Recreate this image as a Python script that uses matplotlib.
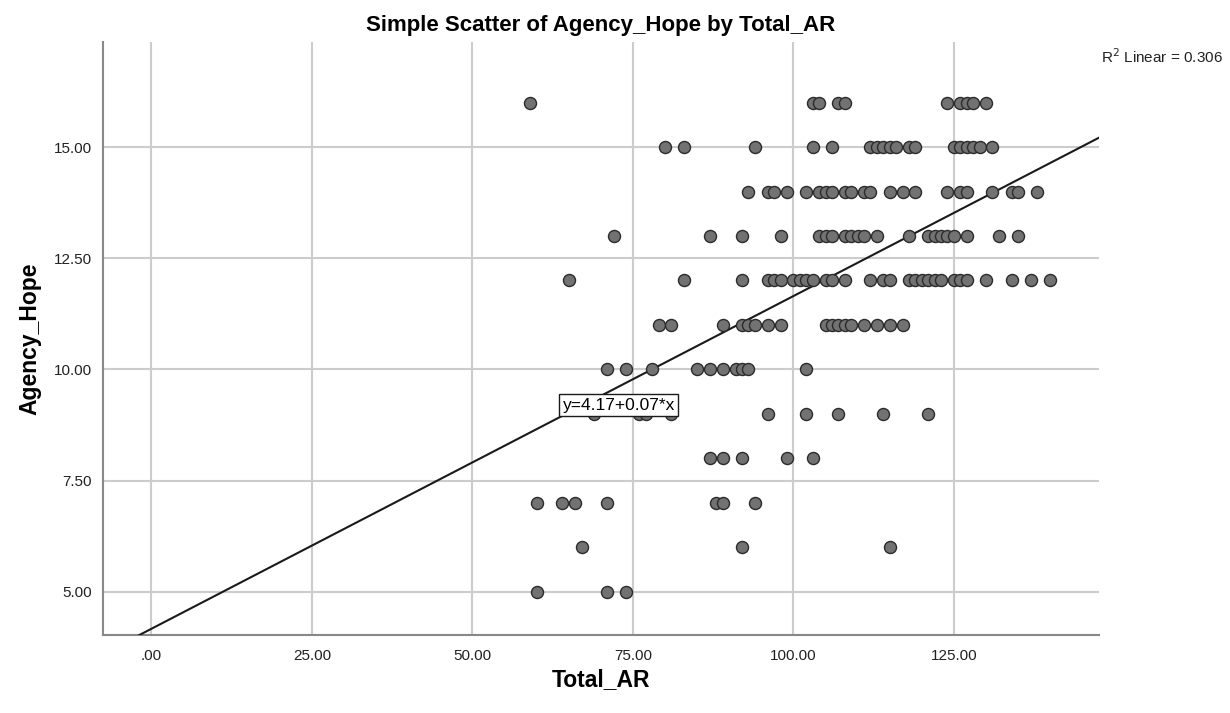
import numpy as np
import matplotlib.pyplot as plt

plt.rcParams['font.family'] = ['Liberation Sans', 'DejaVu Sans']

# Total_AR scores for each Agency_Hope level
total_ar = {
    16: [59, 103, 104, 107, 108, 124, 126, 127, 128, 130],
    15: [80, 83, 94, 103, 106, 112, 113, 114, 115, 116, 118, 119,
         125, 126, 127, 128, 129, 131],
    14: [93, 96, 97, 99, 102, 104, 105, 106, 108, 109, 111, 112, 115, 117,
         119, 124, 126, 127, 131, 134, 135, 138],
    13: [72, 87, 92, 98, 104, 105, 106, 108, 109, 110, 111, 113, 118, 121,
         122, 123, 124, 125, 127, 132, 135],
    12: [65, 83, 92, 96, 97, 98, 100, 101, 102, 103, 105, 106, 108, 112, 114,
         115, 118, 119, 120, 121, 122, 123, 125, 126, 127, 130, 134, 137, 140],
    11: [79, 81, 89, 92, 93, 94, 96, 98, 105, 106, 107, 108, 109, 111, 113,
         115, 117],
    10: [71, 74, 78, 85, 87, 89, 91, 92, 93, 102],
    9: [69, 76, 77, 81, 96, 102, 107, 114, 121],
    8: [87, 89, 92, 99, 103],
    7: [60, 64, 66, 71, 88, 89, 94],
    6: [67, 92, 115],
    5: [60, 71, 74],
}

intercept = 4.17
slope = 0.0748
r_squared = 0.306

x_vals = np.concatenate([v for v in total_ar.values()])
y_vals = np.concatenate([[k] * len(v) for k, v in total_ar.items()])

fig = plt.figure(figsize=(12.3, 7.13), dpi=100)
ax = fig.add_axes([0.0837, 0.1094, 0.8098, 0.8316])

ax.set_xlim(-7.55, 147.6)
ax.set_ylim(4.03, 17.36)

ax.set_xticks(np.arange(0, 126, 25))
ax.set_yticks(np.arange(5, 15.1, 2.5))
ax.set_xticklabels(['.00'] + [f'{t:.2f}' for t in np.arange(25, 126, 25)])
ax.set_yticklabels([f'{t:.2f}' for t in np.arange(5, 15.1, 2.5)])
ax.tick_params(length=0, labelsize=11, colors='#222222')
ax.tick_params(axis='x', pad=10)
ax.tick_params(axis='y', pad=8)

ax.grid(True, color='#cccccc', linewidth=1.5)
ax.set_axisbelow(True)
for side in ['top', 'right']:
    ax.spines[side].set_visible(False)
for side in ['left', 'bottom']:
    ax.spines[side].set_color('#888888')
    ax.spines[side].set_linewidth(1.5)

# Fit line
xs = np.array(ax.get_xlim())
ax.plot(xs, intercept + slope * xs, color='#1a1a1a', linewidth=1.5, zorder=3)

ax.scatter(x_vals, y_vals, s=75, facecolor='#727272', edgecolor='#2b2b2b',
           linewidth=1.0, zorder=4)

ax.text(72.8, 9.2, f'y={intercept:.2f}+{slope:.2f}*x', ha='center', va='center',
        fontsize=12.5, zorder=5,
        bbox=dict(boxstyle='square,pad=0.2', facecolor='white',
                  edgecolor='#1a1a1a', linewidth=1.0))

fig.text(0.994, 0.921, f'R$^2$ Linear = {r_squared:.3f}', ha='right', va='center',
         fontsize=11, color='#222222')

ax.set_title('Simple Scatter of Agency_Hope by Total_AR', fontsize=16,
             fontweight='bold', pad=8)
ax.set_xlabel('Total_AR', fontsize=16.5, fontweight='bold', labelpad=4)
ax.set_ylabel('Agency_Hope', fontsize=16.5, fontweight='bold', labelpad=9)

fig.savefig('out.png', dpi=100)
